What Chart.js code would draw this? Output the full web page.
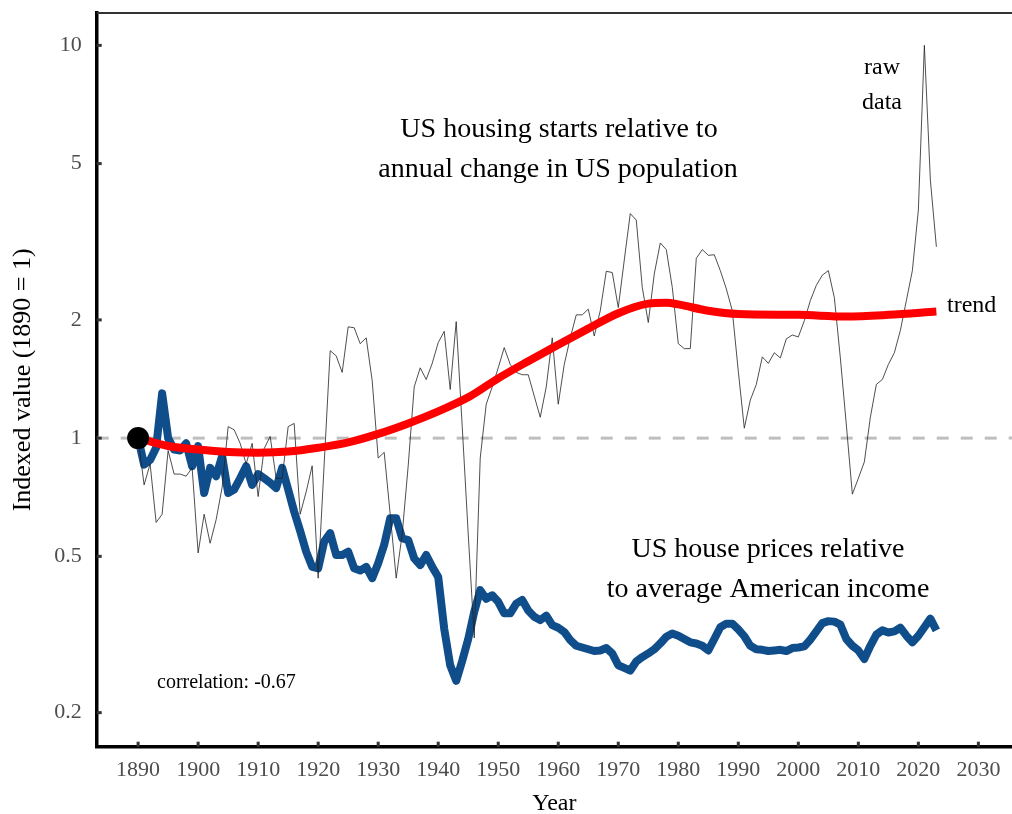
<!DOCTYPE html>
<html>
<head>
<meta charset="utf-8">
<script src="https://cdn.jsdelivr.net/npm/chart.js@4"></script>
<style>
  html, body { margin: 0; padding: 0; background: #fff; }
</style>
</head>
<body>
<canvas id="chart" width="1012" height="814"></canvas>
<script>
// years 1890..2023
const years = Array.from({ length: 134 }, (_, i) => 1890 + i);

// US housing starts relative to annual change in US population (raw, 1890 = 1)
const rawStarts = [
  1.00, 0.76, 0.86, 0.61, 0.64, 0.93, 0.81, 0.81, 0.80, 0.84,
  0.51, 0.64, 0.54, 0.62, 0.75, 1.07, 1.05, 0.97, 0.86, 0.97,
  0.71, 0.94, 1.01, 0.79, 0.79, 1.07, 1.09, 0.64, 0.73, 0.85,
  0.44, 0.86, 1.67, 1.62, 1.47, 1.92, 1.91, 1.74, 1.80, 1.40,
  0.89, 0.92, 0.64, 0.44, 0.57, 0.85, 1.35, 1.51, 1.41, 1.55,
  1.75, 1.87, 1.33, 1.98, 1.07, 0.57, 0.31, 0.89, 1.22, 1.35,
  1.51, 1.70, 1.54, 1.47, 1.45, 1.45, 1.28, 1.13, 1.35, 1.80,
  1.22, 1.54, 1.80, 2.06, 2.06, 2.13, 1.82, 2.11, 2.66, 2.64,
  2.15, 2.84, 3.73, 3.59, 2.42, 1.97, 2.62, 3.14, 3.02, 2.42,
  1.74, 1.69, 1.69, 2.87, 3.02, 2.92, 2.93, 2.67, 2.40, 2.11,
  1.48, 1.06, 1.25, 1.37, 1.61, 1.55, 1.65, 1.60, 1.79, 1.83,
  1.81, 1.99, 2.24, 2.45, 2.60, 2.67, 2.28, 1.60, 1.08, 0.72,
  0.79, 0.87, 1.13, 1.37, 1.41, 1.54, 1.65, 1.88, 2.24, 2.67,
  3.81, 10.0, 4.54, 3.07
];

// US house prices relative to average American income (1890 = 1)
const housePrices = [
  1.00, 0.856, 0.88, 0.945, 1.30, 1.00, 0.935, 0.93, 0.97, 0.848,
  0.954, 0.725, 0.84, 0.80, 0.90, 0.725, 0.74, 0.79, 0.848, 0.76,
  0.81, 0.79, 0.77, 0.746, 0.84, 0.74, 0.65, 0.58, 0.514, 0.47,
  0.466, 0.545, 0.573, 0.504, 0.504, 0.514, 0.466, 0.46, 0.47, 0.44,
  0.48, 0.535, 0.625, 0.625, 0.556, 0.55, 0.494, 0.475, 0.504, 0.47,
  0.443, 0.327, 0.264, 0.241, 0.271, 0.308, 0.361, 0.41, 0.39, 0.398,
  0.383, 0.358, 0.358, 0.379, 0.387, 0.364, 0.351, 0.344, 0.353, 0.334,
  0.329, 0.321, 0.306, 0.296, 0.293, 0.29, 0.287, 0.288, 0.292, 0.283,
  0.264, 0.26, 0.256, 0.27, 0.277, 0.283, 0.29, 0.30, 0.312, 0.318,
  0.314, 0.308, 0.302, 0.30, 0.296, 0.288, 0.308, 0.33, 0.337, 0.337,
  0.326, 0.313, 0.296, 0.29, 0.289, 0.287, 0.288, 0.289, 0.287, 0.292,
  0.293, 0.295, 0.307, 0.322, 0.338, 0.342, 0.341, 0.335, 0.308, 0.296,
  0.288, 0.274, 0.296, 0.316, 0.324, 0.32, 0.322, 0.329, 0.314, 0.302,
  0.314, 0.33, 0.347, 0.324
];

// smoothed trend of housing starts
const trendYears  = [1890, 1895, 1900, 1905, 1910, 1915, 1920, 1925, 1930, 1935, 1940, 1945,
                     1950, 1955, 1960, 1965, 1970, 1975, 1978, 1980, 1985, 1990, 2000, 2008, 2015, 2023];
const trendValues = [1.00, 0.955, 0.935, 0.922, 0.918, 0.924, 0.945, 0.975, 1.025, 1.09, 1.17, 1.27,
                     1.42, 1.57, 1.73, 1.90, 2.08, 2.20, 2.21, 2.19, 2.11, 2.07, 2.06, 2.04, 2.06, 2.10];

const xTicks = [1890, 1900, 1910, 1920, 1930, 1940, 1950, 1960, 1970, 1980, 1990, 2000, 2010, 2020, 2030];
const yTicks = [0.2, 0.5, 1, 2, 5, 10];
const xMin = 1883.1, xMax = 2035.6;
const yMin = 0.1638, yMax = 12.09;

const notes = [
  { text: "US housing starts relative to", x: 559, y: 137, size: 28, align: "center" },
  { text: "annual change in US population", x: 558, y: 177, size: 28, align: "center" },
  { text: "US house prices relative", x: 768, y: 557, size: 28, align: "center" },
  { text: "to average American income", x: 768, y: 597, size: 28, align: "center" },
  { text: "raw", x: 882, y: 74, size: 24, align: "center" },
  { text: "data", x: 882, y: 109, size: 24, align: "center" },
  { text: "trend", x: 947, y: 312, size: 24, align: "left" },
  { text: "correlation: -0.67", x: 157, y: 688, size: 20, align: "left" }
];

const serif = "'Liberation Serif', 'Times New Roman', serif";

// drop the edge padding Chart.js reserves for end labels
const noPad = s => { s.paddingTop = 0; s.paddingBottom = 0; s.paddingLeft = 0; s.paddingRight = 0; };

const frame = {
  id: "frame",
  afterDraw(chart) {
    const { ctx, chartArea: a, scales } = chart;
    ctx.save();
    // top border
    ctx.strokeStyle = "#333";
    ctx.lineWidth = 2;
    ctx.beginPath();
    ctx.moveTo(a.left, a.top);
    ctx.lineTo(a.right, a.top);
    ctx.stroke();
    // inward ticks
    ctx.lineWidth = 3;
    yTicks.forEach(v => {
      const y = scales.y.getPixelForValue(v);
      ctx.beginPath();
      ctx.moveTo(a.left, y);
      ctx.lineTo(a.left + 5, y);
      ctx.stroke();
    });
    xTicks.forEach(v => {
      const x = scales.x.getPixelForValue(v);
      ctx.beginPath();
      ctx.moveTo(x, a.bottom);
      ctx.lineTo(x, a.bottom - 5);
      ctx.stroke();
    });
    // text notes
    ctx.fillStyle = "#000";
    ctx.textBaseline = "alphabetic";
    notes.forEach(n => {
      ctx.font = n.size + "px " + serif;
      ctx.textAlign = n.align;
      ctx.fillText(n.text, n.x, n.y);
    });
    ctx.restore();
  }
};

new Chart(document.getElementById("chart"), {
  type: "line",
  data: {
    datasets: [
      {
        label: "start",
        data: [{ x: 1890, y: 1 }],
        showLine: false,
        pointRadius: 11,
        pointBackgroundColor: "#000",
        pointBorderWidth: 0,
        order: 0
      },
      {
        label: "trend",
        data: trendYears.map((x, i) => ({ x, y: trendValues[i] })),
        borderColor: "#ff0000",
        borderWidth: 8,
        pointRadius: 0,
        cubicInterpolationMode: "monotone",
        borderCapStyle: "butt",
        order: 1
      },
      {
        label: "raw data",
        data: years.map((x, i) => ({ x, y: rawStarts[i] })),
        borderColor: "#222",
        borderWidth: 0.8,
        pointRadius: 0,
        tension: 0,
        order: 2
      },
      {
        label: "house prices",
        data: years.map((x, i) => ({ x, y: housePrices[i] })),
        borderColor: "#104E8B",
        borderWidth: 8,
        pointRadius: 0,
        tension: 0,
        borderJoinStyle: "round",
        order: 3
      },
      {
        label: "reference",
        data: [{ x: xMin, y: 1 }, { x: xMax, y: 1 }],
        borderColor: "#bebebe",
        borderWidth: 3,
        borderDash: [12, 12],
        pointRadius: 0,
        order: 4
      }
    ]
  },
  options: {
    responsive: false,
    animation: false,
    layout: { autoPadding: false, padding: { top: 13, left: 0, right: 0, bottom: 0 } },
    plugins: { legend: { display: false }, tooltip: { enabled: false } },
    scales: {
      x: {
        type: "linear",
        min: xMin,
        max: xMax,
        afterBuildTicks: s => { s.ticks = xTicks.map(v => ({ value: v })); },
        afterFit: s => { s.height = 67.3; noPad(s); },
        grid: { display: true, drawOnChartArea: false, drawTicks: false },
        border: { display: true, color: "#000", width: 3.5 },
        ticks: {
          padding: 10,
          color: "#4d4d4d",
          font: { family: serif, size: 22 },
          maxRotation: 0,
          callback: v => String(v)
        },
        title: {
          display: true,
          text: "Year",
          color: "#000",
          font: { family: serif, size: 24, lineHeight: 0.85 },
          padding: { top: 0, bottom: 0 }
        }
      },
      y: {
        type: "logarithmic",
        min: yMin,
        max: yMax,
        afterBuildTicks: s => { s.ticks = yTicks.map(v => ({ value: v })); },
        afterFit: s => { s.width = 96.7; noPad(s); },
        grid: { display: true, drawOnChartArea: false, drawTicks: false },
        border: { display: true, color: "#000", width: 3.5 },
        ticks: {
          padding: 15,
          color: "#4d4d4d",
          font: { family: serif, size: 22 },
          callback: v => String(v)
        },
        title: {
          display: true,
          text: "Indexed value (1890 = 1)",
          color: "#000",
          font: { family: serif, size: 26, lineHeight: 1 },
          padding: { top: 10, bottom: 0 }
        }
      }
    }
  },
  plugins: [frame]
});
</script>
</body>
</html>
